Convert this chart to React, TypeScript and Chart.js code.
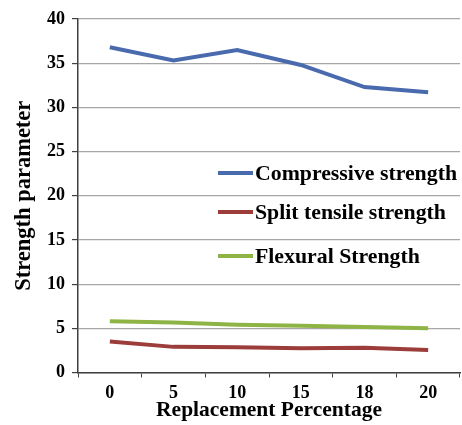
import React, { useEffect, useRef } from "react";
import { Chart, registerables } from "chart.js";

Chart.register(...registerables);

const categories = ["0", "5", "10", "15", "18", "20"];
const compressive = [36.8, 35.3, 36.5, 34.8, 32.3, 31.7];
const splitTensile = [3.5, 2.9, 2.85, 2.75, 2.8, 2.55];
const flexural = [5.8, 5.65, 5.4, 5.3, 5.15, 5.0];
const seriesNames = ["Compressive strength", "Split tensile strength", "Flexural Strength"];
const seriesColors = ["#4a6aae", "#9c3d3b", "#8fb446"];

const FONT = "'Liberation Serif', 'Times New Roman', serif";

const insideLegend = {
  id: "insideLegend",
  afterDraw(chart: any) {
    const { ctx, chartArea } = chart;
    const rows = [154, 193, 237];
    ctx.save();
    ctx.font = `bold 21.8px ${FONT}`;
    ctx.textBaseline = "middle";
    ctx.textAlign = "left";
    chart.data.datasets.forEach((ds: any, i: number) => {
      const y = chartArea.top + rows[i];
      const x0 = chartArea.left + 140;
      ctx.strokeStyle = ds.borderColor;
      ctx.lineWidth = 4;
      ctx.beginPath();
      ctx.moveTo(x0, y);
      ctx.lineTo(x0 + 35, y);
      ctx.stroke();
      ctx.fillStyle = "#000";
      ctx.fillText(ds.label, x0 + 37, y + 1);
    });
    ctx.restore();
  },
};

export default function App() {
  const ref = useRef<HTMLCanvasElement | null>(null);
  useEffect(() => {
    document.body.style.margin = "0";
    if (!ref.current) return;
    const chart = new Chart(ref.current, {
      type: "line",
      data: {
        labels: categories,
        datasets: [compressive, splitTensile, flexural].map((d, i) => ({
          label: seriesNames[i],
          data: d,
          borderColor: seriesColors[i],
          backgroundColor: seriesColors[i],
          borderWidth: 4,
          pointRadius: 0,
          tension: 0,
        })),
      },
      options: {
        animation: false,
        responsive: false,
        maintainAspectRatio: false,
        layout: { padding: { top: 19, right: 2, left: 0, bottom: 0 } },
        plugins: { legend: { display: false }, tooltip: { enabled: false } },
        scales: {
          x: {
            offset: true,
            grid: {
              offset: true,
              drawOnChartArea: false,
              drawTicks: true,
              tickLength: 5,
              tickColor: "#404040",
            },
            border: { color: "#404040", width: 1.5 },
            ticks: {
              color: "#000",
              padding: 5,
              font: { family: FONT, size: 18, weight: "bold" },
            },
            title: {
              display: true,
              text: "Replacement Percentage",
              color: "#000",
              padding: { top: 0, bottom: 2 },
              font: { family: FONT, size: 21.5, weight: "bold" },
            },
            afterFit: (s: any) => {
              s.height = 52.5;
            },
          },
          y: {
            min: 0,
            max: 40,
            ticks: {
              stepSize: 5,
              color: "#000",
              padding: 7,
              font: { family: FONT, size: 18, weight: "bold" },
            },
            grid: {
              color: "#a6a6a6",
              lineWidth: 1.2,
              tickLength: 6,
              tickColor: "#404040",
            },
            border: { color: "#404040", width: 1.5 },
            title: {
              display: true,
              text: "Strength parameter",
              color: "#000",
              padding: { top: 11, bottom: 0 },
              font: { family: FONT, size: 22.5, weight: "bold" },
            },
            afterFit: (s: any) => {
              s.width = 78;
            },
          },
        },
      },
      plugins: [insideLegend],
    } as any);
    return () => chart.destroy();
  }, []);
  return (
    <div style={{ width: 462, height: 425 }}>
      <canvas ref={ref} width={462} height={425} style={{ width: 462, height: 425, display: "block" }} />
    </div>
  );
}
